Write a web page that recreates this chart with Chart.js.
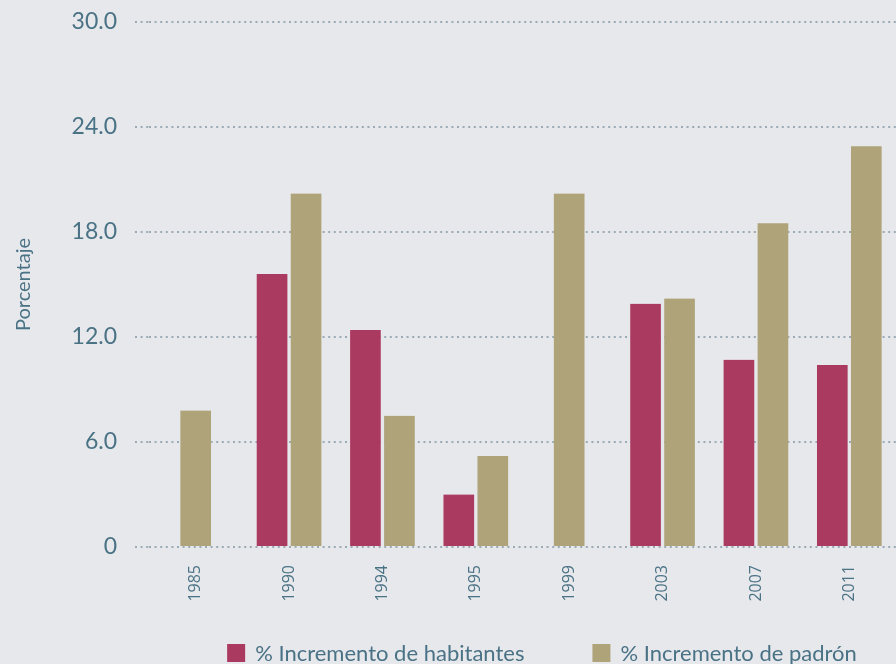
<!DOCTYPE html>
<html>
<head>
<meta charset="utf-8">
<script src="https://cdn.jsdelivr.net/npm/chart.js@4.4.1/dist/chart.umd.min.js"></script>
<style>
  html, body { margin: 0; padding: 0; background: #e7e8ec; }
  canvas { display: block; }
</style>
</head>
<body>
<canvas id="c" width="896" height="664"></canvas>
<script>
const years = ['1985', '1990', '1994', '1995', '1999', '2003', '2007', '2011'];
const habitantes = [null, 15.6, 12.4, 3.0, null, 13.9, 10.7, 10.4];
const padron = [7.8, 20.2, 7.5, 5.2, 20.2, 14.2, 18.5, 22.9];
const seriesNames = ['% Incremento de habitantes', '% Incremento de padrón'];
const yTicks = [0, 6, 12, 18, 24, 30];

const TEXT = '#4a7285';
const GRID = '#9aabb5';

const customLegend = {
  id: 'customLegend',
  afterDraw(chart) {
    const ctx = chart.ctx;
    ctx.save();
    ctx.font = '400 22px Lato, "Open Sans", sans-serif';
    ctx.textBaseline = 'middle';
    const box = 18, gapText = 10, gapItem = 68;
    const items = chart.data.datasets.map(d => ({ label: d.label, color: d.backgroundColor, w: ctx.measureText(d.label).width }));
    let total = 0;
    items.forEach((it, i) => { total += box + gapText + it.w + (i ? gapItem : 0); });
    let x = 542 - total / 2;
    const yc = 653;
    items.forEach((it, i) => {
      if (i) x += gapItem;
      ctx.fillStyle = it.color;
      ctx.fillRect(x, yc - box / 2, box, box);
      ctx.fillStyle = TEXT;
      ctx.fillText(it.label, x + box + gapText, yc + 1);
      x += box + gapText + it.w;
    });
    ctx.restore();
  }
};

new Chart(document.getElementById('c'), {
  type: 'bar',
  data: {
    labels: years,
    datasets: [
      { label: seriesNames[0], data: habitantes, backgroundColor: '#aa3a60' },
      { label: seriesNames[1], data: padron, backgroundColor: '#afa37a' }
    ]
  },
  options: {
    responsive: false,
    animation: false,
    layout: { padding: { top: 22, right: 0, bottom: 0, left: 0 } },
    datasets: {
      bar: {
        skipNull: true,
        barThickness: 34,
        borderWidth: { left: 2, right: 2, top: 0, bottom: 0 },
        borderColor: 'rgba(0,0,0,0)',
        borderSkipped: false
      }
    },
    plugins: {
      legend: { display: false },
      tooltip: { enabled: false }
    },
    scales: {
      x: {
        grid: { display: false, drawTicks: false },
        border: { display: false },
        ticks: {
          minRotation: 90, maxRotation: 90,
          padding: 18,
          color: TEXT,
          font: { family: '"Open Sans", sans-serif', size: 16 }
        },
        afterFit(scale) { scale.height = 117; }
      },
      y: {
        min: 0, max: 30,
        afterBuildTicks(scale) { scale.ticks = yTicks.map(v => ({ value: v })); },
        border: { display: false, dash: [2, 3.6] },
        grid: {
          color: GRID,
          lineWidth: 2,
          tickBorderDash: [2, 3.6],
          drawTicks: true,
          tickLength: 14,
          tickColor: GRID
        },
        ticks: {
          padding: 18,
          color: TEXT,
          font: { family: 'Lato, "Open Sans", sans-serif', size: 23, weight: 400 },
          callback: v => v === 0 ? '0' : v.toFixed(1)
        },
        title: {
          display: true,
          text: 'Porcentaje',
          color: TEXT,
          padding: { top: 12, bottom: 0 },
          font: { family: 'Lato, "Open Sans", sans-serif', size: 20, weight: 400 }
        },
        afterFit(scale) {
          scale.width = 149;
          scale.paddingTop = 0;
          scale.paddingBottom = 0;
        }
      }
    }
  },
  plugins: [customLegend]
});
</script>
</body>
</html>
